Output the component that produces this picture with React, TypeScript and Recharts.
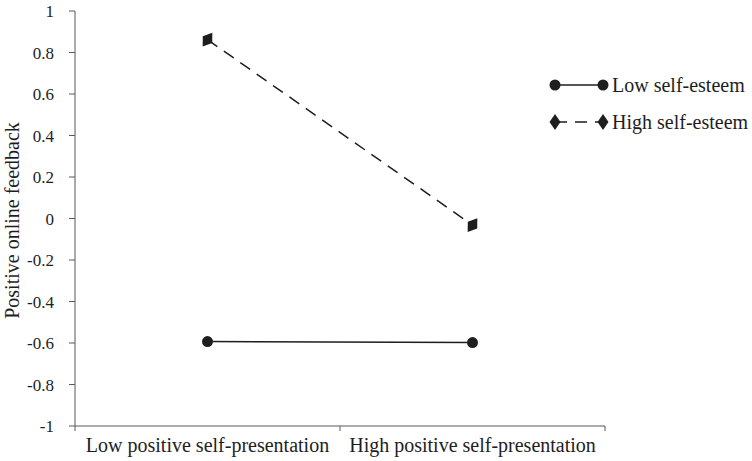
import { LineChart, Line, XAxis, YAxis, Legend } from 'recharts';

const categories = ['Low positive self-presentation', 'High positive self-presentation'];
const lowSelfEsteem = [-0.593, -0.598];
const highSelfEsteem = [0.862, -0.032];
const yTicks = [-1, -0.8, -0.6, -0.4, -0.2, 0, 0.2, 0.4, 0.6, 0.8, 1];
const xTicks = [0, 0.5, 1, 1.5, 2];

const data = categories.map((name, i) => ({
  x: i + 0.5,
  name,
  low: lowSelfEsteem[i],
  high: highSelfEsteem[i],
}));

const FONT = '"Liberation Serif", "Times New Roman", serif';
const INK = '#1e1e1e';
const AXIS = '#595959';

const Diamond = ({ cx, cy, rot = 0, size = 1 }: any) => (
  <polygon
    points={`0,${-8 * size} ${5.5 * size},0 0,${8 * size} ${-5.5 * size},0`}
    transform={`translate(${cx},${cy}) rotate(${rot})`}
    fill={INK}
  />
);

// integer ticks = band edges (tick mark only), half ticks = category labels
const XTick = ({ x, y, payload }: any) => {
  const v = payload.value;
  if (Number.isInteger(v)) {
    return <line x1={x} x2={x} y1={y - 8} y2={y - 3} stroke={AXIS} strokeWidth={1} />;
  }
  return (
    <text x={x} y={y + 4} dy="0.71em" textAnchor="middle" fontFamily={FONT} fontSize={20} fill={INK}>
      {categories[Math.floor(v)]}
    </text>
  );
};

const LegendBox = () => (
  <svg width={204} height={60} style={{ overflow: 'visible', display: 'block' }}>
    <line x1={7} x2={55} y1={10} y2={10} stroke={INK} strokeWidth={1.5} />
    <circle cx={7} cy={10} r={5.5} fill={INK} />
    <circle cx={55} cy={10} r={5.5} fill={INK} />
    <text x={64} y={10} dy="0.35em" fontFamily={FONT} fontSize={20} fill={INK}>Low self-esteem</text>
    <line x1={7} x2={55} y1={47} y2={47} stroke={INK} strokeWidth={1.5} strokeDasharray="12 8" />
    <Diamond cx={7} cy={47} />
    <Diamond cx={55} cy={47} />
    <text x={64} y={47} dy="0.35em" fontFamily={FONT} fontSize={20} fill={INK}>High self-esteem</text>
  </svg>
);

export default function App() {
  return (
    <div style={{ position: 'absolute', left: 0, top: 0, background: '#fff' }}>
      <LineChart width={752} height={461} data={data} margin={{ top: 11, right: 147, left: 0, bottom: 5 }}>
        <XAxis
          type="number"
          dataKey="x"
          domain={[0, 2]}
          ticks={xTicks}
          interval={0}
          tick={<XTick />}
          tickLine={false}
          axisLine={{ stroke: AXIS }}
          height={30}
        />
        <YAxis
          domain={[-1, 1]}
          ticks={yTicks}
          interval={0}
          width={75}
          tickSize={6}
          tickMargin={15}
          tickLine={{ stroke: AXIS }}
          axisLine={{ stroke: AXIS }}
          tick={{ fontFamily: FONT, fontSize: 17, fill: INK }}
          label={{
            value: 'Positive online feedback',
            angle: -90,
            position: 'center',
            dx: -26,
            dy: 2,
            style: { fontFamily: FONT, fontSize: 20, fill: INK, textAnchor: 'middle' },
          }}
        />
        <Legend
          layout="horizontal"
          verticalAlign="middle"
          align="center"
          wrapperStyle={{ top: 75, left: 548, width: 204 }}
          content={<LegendBox />}
        />
        <Line
          dataKey="low"
          stroke={INK}
          strokeWidth={1.5}
          dot={{ r: 5.5, fill: INK, stroke: INK, strokeWidth: 0 }}
          isAnimationActive={false}
        />
        <Line
          dataKey="high"
          stroke={INK}
          strokeWidth={1.5}
          strokeDasharray="12 8"
          dot={(p: any) => <Diamond key={p.index} cx={p.cx} cy={p.cy} rot={35} size={1.05} />}
          isAnimationActive={false}
        />
      </LineChart>
    </div>
  );
}
